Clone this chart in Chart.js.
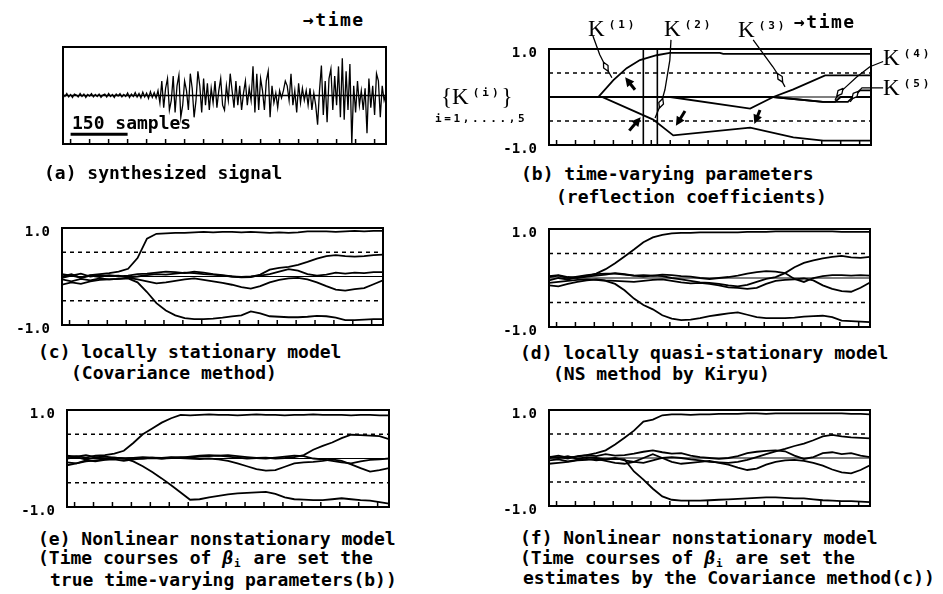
<!DOCTYPE html>
<html>
<head>
<meta charset="utf-8">
<script src="https://cdn.jsdelivr.net/npm/chart.js@4.4.1/dist/chart.umd.min.js"></script>
<style>
  html, body { margin: 0; padding: 0; background: #fff; }
  #page { position: relative; width: 943px; height: 594px; overflow: hidden; background: #fff; color: #000; }
  canvas { position: absolute; }
  .t { position: absolute; white-space: pre; font-family: "DejaVu Sans Mono", monospace; font-size: 18px; line-height: 20px; font-weight: bold; z-index: 2; }
  .tm { letter-spacing: 1.5px; }
  .sub { font-size: 11px; position: relative; top: 3px; margin: 0 2px 0 1px; }
  .kl { position: absolute; white-space: pre; font-family: "Liberation Serif", "DejaVu Serif", serif; font-size: 23px; line-height: 24px; z-index: 2; }
  .kl .sp { font-family: "DejaVu Sans Mono", monospace; font-size: 11px; font-weight: bold; letter-spacing: 3px; position: relative; top: -8px; margin-left: 4px; }
  .idx { position: absolute; white-space: pre; font-family: "DejaVu Sans Mono", monospace; font-size: 11px; font-weight: bold; letter-spacing: 2.6px; line-height: 14px; z-index: 2; }
</style>
</head>
<body>
<div id="page">
  <canvas id="pa"></canvas>
  <canvas id="pb"></canvas>
  <canvas id="pc"></canvas>
  <canvas id="pd"></canvas>
  <canvas id="pe"></canvas>
  <canvas id="pf"></canvas>

  <div class="t tm" style="left:303px;top:10px">→time</div>
  <div class="t" style="left:72px;top:113px">150 samples</div>
  <div class="t" style="left:44px;top:163px">(a) synthesized signal</div>

  <div class="t tm" style="left:794px;top:12px">→time</div>
  <div class="kl" style="left:588px;top:17px">K<span class="sp">(1)</span></div>
  <div class="kl" style="left:664px;top:17px">K<span class="sp">(2)</span></div>
  <div class="kl" style="left:738px;top:18px">K<span class="sp">(3)</span></div>
  <div class="kl" style="left:883px;top:46px">K<span class="sp">(4)</span></div>
  <div class="kl" style="left:883px;top:76px">K<span class="sp">(5)</span></div>
  <div class="kl" style="left:441px;top:85px">{K<span class="sp">(i)</span>}</div>
  <div class="idx" style="left:435px;top:112px">i=1,....,5</div>
  <div class="t" style="left:521px;top:164px">(b) time-varying parameters</div>
  <div class="t" style="left:556px;top:187px">(reflection coefficients)</div>

  <div class="t" style="left:38px;top:342px">(c) locally stationary model</div>
  <div class="t" style="left:71px;top:363px">(Covariance method)</div>
  <div class="t" style="left:520px;top:343px">(d) locally quasi-stationary model</div>
  <div class="t" style="left:553px;top:364px">(NS method by Kiryu)</div>

  <div class="t" style="left:38px;top:529px">(e) Nonlinear nonstationary model</div>
  <div class="t" style="left:38px;top:548px">(Time courses of <i>β</i><span class="sub">i</span> are set the</div>
  <div class="t" style="left:50px;top:570px">true time-varying parameters(b))</div>
  <div class="t" style="left:520px;top:528px">(f) Nonlinear nonstationary model</div>
  <div class="t" style="left:520px;top:548px">(Time courses of <i>β</i><span class="sub">i</span> are set the</div>
  <div class="t" style="left:523px;top:568px">estimates by the Covariance method(c))</div>
</div>

<script>
// --- DATA: time axis (samples) ---
const X_MIN = 0;
const X_MAX = 850;
const X_TICKS = [20, 70, 120, 170, 220, 270, 320, 370, 420, 470, 520, 570, 620, 670, 720, 770, 820];
const Y_LABEL_TICKS = [-1, 1];
const DASHED_LEVELS = [0.5, -0.5];
const SIGNAL_STEP = 5;
const T_GRID = [0, 25, 50, 75, 100, 125, 150, 175, 200, 225, 250, 275, 300, 325, 350, 375, 400, 425,
  450, 475, 500, 525, 550, 575, 600, 625, 650, 675, 700, 725, 750, 775, 800, 825, 850];

// (a) synthesized signal, one value every 5 samples
const SIGNAL = [
  0.03, -0.02, 0.04, -0.03, 0.02, -0.04, 0.03, 0.01, -0.03, 0.04,
  -0.02, 0.03, -0.04, 0.02, -0.01, 0.04, -0.03, 0.02, -0.02, 0.03,
  -0.04, 0.01, 0.03, -0.03, 0.04, -0.02, 0.02, -0.04, 0.03, -0.01,
  0.04, -0.03, 0.02, -0.02, 0.05, -0.04, 0.03, -0.02, 0.06, -0.03,
  0.04, -0.05, 0.07, -0.03, 0.05, -0.06, 0.08, -0.04, 0.06, -0.05,
  0.1, -0.15, 0.3, -0.25, 0.15, 0.35, -0.3, -0.1, 0.4, -0.35,
  0.2, 0.42, -0.45, -0.2, 0.3, 0.1, -0.3, 0.45, 0.15, -0.45,
  -0.1, 0.5, 0.2, -0.35, 0.35, -0.2, 0.25, -0.3, 0.15, -0.15,
  0.3, -0.25, 0.1, 0.35, -0.2, -0.3, 0.2, -0.1, 0.45, 0.1,
  -0.25, 0.3, -0.2, 0.2, -0.3, 0.05, 0.3, -0.2, 0.15, -0.1,
  0.6, -0.35, 0.45, -0.3, 0.35, 0.1, -0.3, 0.3, 0.5, -0.45,
  0.2, -0.15, 0.05, -0.25, 0.1, -0.05, 0.1, 0.3, 0.2, -0.1,
  0.45, -0.2, 0.1, -0.35, 0.25, -0.15, 0.15, -0.1, 0.1, -0.2,
  0.15, -0.3, 0.05, -0.2, -0.6, 0.1, 0.62, -0.4, 0.3, -0.55,
  0.35, 0.55, -0.3, 0.4, -0.2, 0.6, -0.45, 0.77, -0.5, 0.5,
  -0.3, 0.65, -1.0, 0.2, -0.35, 0.3, -0.2, 0.1, -0.3, 0.15,
  -0.78, 0.35, -0.25, 0.2, -0.4, 0.45, 0.3, -0.45, 0.2, -0.1, 0.05
];
const SCALE_BAR_X = [20, 170];
const SCALE_BAR_Y = -0.8;

// (b) true reflection coefficients (break points)
const K1_T = [0, 130, 170, 205, 240, 284, 319, 451, 460, 850];
const K1_V = [0, 0, 0.35, 0.6, 0.77, 0.87, 0.92, 0.92, 0.9, 0.9];
const K2_T = [0, 140, 275, 328, 531, 645, 724, 850];
const K2_V = [0, 0, -0.47, -0.8, -0.64, -0.84, -0.91, -0.91];
const K3_T = [0, 320, 531, 592, 645, 729, 850];
const K3_V = [0, 0, -0.24, 0, 0.16, 0.45, 0.45];
const K4_T = [0, 592, 723, 755, 770, 850];
const K4_V = [0, 0, -0.1, -0.1, 0, 0];
const K5_T = [0, 592, 723, 789, 821, 850];
const K5_V = [0, 0, -0.1, -0.1, 0.14, 0.14];
const MARK_LINES_T = [249, 286];

// (b) annotation leaders and arrows, in [sample, value]
const LEADERS = [
  { path: [[116, 1.27], [134, 0.88], [150, 0.63], [166, 0.40]], mark: 2 },
  { path: [[322, 1.19], [319, 0.77], [306, 0.15], [296, -0.13], [280, -0.44]], mark: 3 },
  { path: [[539, 1.19], [591, 0.63], [610, 0.40], [623, 0.21]], mark: 2 },
  { path: [[882, 0.74], [847, 0.63], [813, 0.42], [781, 0.19], [768, 0.10], [755, -0.06]], mark: 4 },
  { path: [[882, 0.19], [826, 0.19], [808, 0.04], [795, -0.1]], mark: 2 }
];
const ARROWS = [
  [227, 0.15, 201, 0.41],
  [212, -0.70, 242, -0.42],
  [359, -0.29, 335, -0.60],
  [557, -0.27, 542, -0.56]
];

// (c) Covariance method estimates
const C1 = [-0.03, 0.02, -0.02, 0.03, 0.05, 0.07, 0.1, 0.16, 0.38, 0.78, 0.88, 0.89, 0.9, 0.9, 0.91, 0.92, 0.91, 0.92,
  0.92, 0.91, 0.92, 0.91, 0.9, 0.91, 0.9, 0.91, 0.93, 0.93, 0.93, 0.92, 0.93, 0.94, 0.93, 0.94, 0.94];
const C2 = [-0.06, -0.1, -0.05, -0.08, -0.04, -0.06, -0.05, -0.04, -0.12, -0.32, -0.55, -0.7, -0.8, -0.86, -0.88, -0.88, -0.87, -0.85,
  -0.82, -0.8, -0.72, -0.76, -0.82, -0.83, -0.84, -0.84, -0.83, -0.81, -0.82, -0.85, -0.9, -0.9, -0.89, -0.88, -0.88];
const C3 = [0.05, 0.02, 0.06, 0.0, 0.03, 0.01, 0.02, -0.02, 0.0, 0.03, 0.05, 0.04, 0.06, 0.08, 0.07, 0.05, 0.04, 0.02,
  0.0, -0.02, -0.01, 0.04, 0.14, 0.18, 0.2, 0.24, 0.3, 0.37, 0.42, 0.44, 0.42, 0.41, 0.42, 0.44, 0.45];
const C4 = [0.0, 0.05, -0.03, 0.02, -0.01, 0.03, 0.0, 0.02, 0.05, 0.06, 0.08, 0.1, 0.09, 0.07, 0.1, 0.08, 0.05, 0.03,
  0.0, -0.01, 0.0, 0.02, 0.05, 0.1, 0.15, 0.12, 0.05, 0.02, 0.04, 0.08, 0.06, 0.08, 0.07, 0.09, 0.09];
const C5 = [-0.17, -0.12, -0.15, -0.1, -0.07, -0.06, -0.05, -0.03, -0.06, -0.1, -0.14, -0.12, -0.09, -0.06, -0.04, -0.07, -0.1, -0.13,
  -0.17, -0.22, -0.25, -0.2, -0.12, -0.07, -0.04, -0.03, -0.06, -0.12, -0.2, -0.27, -0.29, -0.26, -0.24, -0.16, -0.08];

// (d) NS method by Kiryu
const D1 = [-0.05, 0.0, -0.03, 0.02, 0.04, 0.09, 0.18, 0.3, 0.44, 0.58, 0.73, 0.83, 0.88, 0.91, 0.92, 0.92, 0.93, 0.93,
  0.93, 0.93, 0.93, 0.94, 0.94, 0.94, 0.95, 0.95, 0.95, 0.95, 0.95, 0.95, 0.95, 0.94, 0.94, 0.94, 0.94];
const D2 = [-0.1, -0.08, -0.06, -0.04, -0.03, -0.04, -0.06, -0.12, -0.25, -0.42, -0.55, -0.64, -0.76, -0.83, -0.86, -0.85, -0.82, -0.78,
  -0.75, -0.72, -0.7, -0.75, -0.8, -0.82, -0.82, -0.82, -0.81, -0.79, -0.78, -0.77, -0.8, -0.87, -0.88, -0.89, -0.9];
const D3 = [0.04, 0.06, 0.02, 0.0, 0.03, 0.05, 0.07, 0.1, 0.08, 0.05, 0.03, 0.05, 0.04, 0.0, -0.03, -0.06, -0.09, -0.1,
  -0.12, -0.15, -0.17, -0.14, -0.08, -0.02, 0.02, 0.1, 0.22, 0.31, 0.36, 0.4, 0.43, 0.45, 0.42, 0.41, 0.43];
const D4 = [0.02, 0.05, 0.0, 0.03, 0.06, 0.08, 0.09, 0.09, 0.07, 0.05, 0.06, 0.05, 0.07, 0.06, 0.04, 0.03, 0.0, -0.02,
  0.0, 0.02, 0.05, 0.09, 0.12, 0.14, 0.13, 0.1, -0.02, -0.08, 0.0, 0.04, 0.06, 0.06, 0.05, 0.06, 0.05];
const D5 = [-0.15, -0.17, -0.12, -0.08, -0.05, -0.03, -0.05, -0.06, -0.07, -0.08, -0.06, -0.04, -0.03, -0.06, -0.09, -0.11, -0.1, -0.12,
  -0.15, -0.19, -0.2, -0.22, -0.2, -0.12, -0.06, -0.04, -0.03, -0.01, -0.05, -0.15, -0.22, -0.27, -0.28, -0.2, -0.09];

// (e) nonlinear nonstationary model, beta = true parameters
const E1 = [0.03, 0.05, 0.02, 0.06, 0.07, 0.1, 0.16, 0.32, 0.5, 0.62, 0.74, 0.83, 0.9, 0.89, 0.9, 0.91, 0.9, 0.9,
  0.89, 0.9, 0.91, 0.9, 0.9, 0.89, 0.9, 0.9, 0.91, 0.9, 0.9, 0.9, 0.89, 0.9, 0.9, 0.89, 0.89];
const E2 = [-0.14, -0.1, -0.06, -0.04, -0.02, 0.0, 0.0, -0.06, -0.16, -0.28, -0.41, -0.55, -0.7, -0.85, -0.84, -0.8, -0.77, -0.74,
  -0.72, -0.71, -0.7, -0.69, -0.73, -0.8, -0.84, -0.85, -0.86, -0.86, -0.84, -0.82, -0.84, -0.86, -0.87, -0.9, -0.93];
const E3 = [0.0, 0.03, -0.02, 0.02, 0.0, 0.02, 0.0, 0.01, 0.03, 0.02, 0.0, 0.01, 0.03, 0.02, 0.04, 0.05, 0.06, 0.04,
  0.02, 0.0, 0.01, 0.02, 0.0, 0.01, 0.03, 0.07, 0.18, 0.26, 0.33, 0.42, 0.49, 0.48, 0.47, 0.46, 0.4];
const E4 = [0.06, 0.04, 0.07, 0.03, 0.04, 0.02, 0.0, 0.01, 0.0, 0.02, 0.01, 0.03, 0.02, 0.04, 0.06, 0.07, 0.06, 0.07,
  0.05, 0.03, 0.01, 0.0, 0.02, 0.04, 0.06, 0.05, 0.0, -0.02, -0.05, -0.08, -0.1, -0.06, -0.03, -0.02, 0.0];
const E5 = [-0.08, -0.1, -0.04, -0.06, -0.03, -0.02, -0.05, -0.02, 0.0, 0.01, 0.0, 0.02, 0.01, 0.0, -0.01, 0.0, -0.02, -0.05,
  -0.1, -0.16, -0.22, -0.25, -0.24, -0.17, -0.1, -0.08, -0.07, -0.05, -0.02, -0.05, -0.12, -0.2, -0.27, -0.24, -0.2];

// (f) nonlinear nonstationary model, beta = Covariance estimates
const F1 = [0.0, 0.02, -0.01, 0.04, 0.06, 0.1, 0.16, 0.28, 0.42, 0.57, 0.76, 0.8, 0.89, 0.91, 0.91, 0.9, 0.91, 0.91,
  0.92, 0.92, 0.92, 0.93, 0.93, 0.92, 0.93, 0.93, 0.93, 0.93, 0.93, 0.93, 0.93, 0.93, 0.92, 0.92, 0.91];
const F2 = [-0.05, -0.03, -0.07, -0.04, -0.02, -0.05, -0.03, -0.02, -0.03, -0.28, -0.45, -0.64, -0.8, -0.87, -0.89, -0.89, -0.89, -0.88,
  -0.87, -0.86, -0.85, -0.84, -0.83, -0.82, -0.82, -0.83, -0.84, -0.84, -0.86, -0.88, -0.89, -0.9, -0.9, -0.91, -0.92];
const F3 = [0.03, 0.0, 0.04, -0.02, 0.02, 0.0, -0.03, 0.0, -0.05, -0.08, -0.1, -0.05, 0.0, 0.02, 0.0, -0.03, -0.05, -0.08,
  -0.09, -0.1, -0.08, -0.04, 0.02, 0.08, 0.14, 0.19, 0.25, 0.3, 0.37, 0.45, 0.48, 0.45, 0.43, 0.42, 0.41];
const F4 = [0.02, 0.05, 0.01, 0.03, 0.06, 0.04, 0.08, 0.05, 0.06, 0.09, 0.13, 0.16, 0.12, 0.09, 0.1, 0.05, 0.02, 0.0,
  -0.02, 0.0, 0.04, 0.1, 0.13, 0.15, 0.16, 0.14, 0.05, -0.02, 0.02, 0.1, 0.12, 0.08, 0.1, 0.05, 0.02];
const F5 = [-0.12, -0.1, -0.08, -0.05, -0.04, -0.02, -0.06, -0.1, -0.12, -0.08, 0.0, 0.08, 0.0, -0.08, -0.12, -0.1, -0.08, -0.06,
  -0.1, -0.14, -0.2, -0.25, -0.22, -0.14, -0.08, -0.05, -0.04, -0.06, -0.1, -0.16, -0.24, -0.3, -0.32, -0.25, -0.15];

// --- LAYOUT: plot boxes on the page ---
const BOX = {
  pa: { l: 63, t: 47, r: 386, b: 144 },
  pb: { l: 549, t: 49, r: 871, b: 145 },
  pc: { l: 62, t: 228, r: 383, b: 325 },
  pd: { l: 549, t: 229, r: 870, b: 327 },
  pe: { l: 67, t: 410, r: 389, b: 507 },
  pf: { l: 549, t: 410, r: 870, b: 506 }
};

// --- DATASET HELPERS ---
function curve(ts, vs, width) {
  return { data: ts.map((t, i) => ({ x: t, y: vs[i] })), borderColor: '#000', borderWidth: width || 1.8, pointRadius: 0, tension: 0, fill: false };
}
function level(v, dash, width) {
  return { data: [{ x: X_MIN, y: v }, { x: X_MAX, y: v }], borderColor: '#000', borderWidth: width || 1.5, borderDash: dash || [], pointRadius: 0, fill: false };
}
function refLines() {
  return [level(0, [], 1.2)].concat(DASHED_LEVELS.map(v => level(v, [4, 4], 1.6)));
}

// --- PLUGINS ---
const framePlugin = {
  id: 'frame',
  afterDatasetsDraw(chart) {
    const { ctx, chartArea: a, scales: { x } } = chart;
    ctx.save();
    ctx.strokeStyle = '#000';
    ctx.lineWidth = 2;
    ctx.strokeRect(a.left, a.top, a.right - a.left, a.bottom - a.top);
    ctx.lineWidth = 1.5;
    ctx.beginPath();
    X_TICKS.forEach(v => {
      const px = x.getPixelForValue(v);
      ctx.moveTo(px, a.bottom);
      ctx.lineTo(px, a.bottom - 5);
    });
    ctx.stroke();
    ctx.restore();
  }
};

const kNotesPlugin = {
  id: 'kNotes',
  afterDatasetsDraw(chart) {
    const { ctx, scales: { x, y } } = chart;
    const toPx = p => [x.getPixelForValue(p[0]), y.getPixelForValue(p[1])];
    ctx.save();
    ctx.strokeStyle = '#000';
    ctx.fillStyle = '#000';
    ctx.lineJoin = 'round';

    // leader lines with small open markers
    LEADERS.forEach(L => {
      const pts = L.path.map(toPx);
      ctx.lineWidth = 1.3;
      ctx.beginPath();
      ctx.moveTo(pts[0][0], pts[0][1]);
      pts.slice(1).forEach(p => ctx.lineTo(p[0], p[1]));
      ctx.stroke();
      const m = pts[L.mark], p0 = pts[L.mark - 1], p1 = pts[L.mark + 1];
      const ang = Math.atan2(p1[1] - p0[1], p1[0] - p0[0]);
      ctx.save();
      ctx.translate(m[0], m[1]);
      ctx.rotate(ang);
      ctx.beginPath();
      ctx.moveTo(-5, 0); ctx.lineTo(0, -2.5); ctx.lineTo(5, 0); ctx.lineTo(0, 2.5); ctx.closePath();
      ctx.fillStyle = '#fff';
      ctx.fill();
      ctx.stroke();
      ctx.restore();
    });

    // thick arrows
    ARROWS.forEach(a => {
      const [x0, y0] = toPx([a[0], a[1]]);
      const [x1, y1] = toPx([a[2], a[3]]);
      const ang = Math.atan2(y1 - y0, x1 - x0);
      const c = Math.cos(ang), s = Math.sin(ang);
      ctx.lineWidth = 3;
      ctx.beginPath();
      ctx.moveTo(x0, y0);
      ctx.lineTo(x1 - 6 * c, y1 - 6 * s);
      ctx.stroke();
      ctx.beginPath();
      ctx.moveTo(x1, y1);
      ctx.lineTo(x1 - 9 * c - 4.5 * s, y1 - 9 * s + 4.5 * c);
      ctx.lineTo(x1 - 9 * c + 4.5 * s, y1 - 9 * s - 4.5 * c);
      ctx.closePath();
      ctx.fill();
    });
    ctx.restore();
  }
};

// --- CHART FACTORY ---
function makePanel(id, datasets, showY, margin, extraPlugins) {
  const b = BOX[id];
  const m = Object.assign({ l: 60, t: 12, r: 12, b: 12 }, margin || {});
  const cv = document.getElementById(id);
  const w = (b.r - b.l) + m.l + m.r;
  const h = (b.b - b.t) + m.t + m.b;
  cv.width = w; cv.height = h;
  cv.style.left = (b.l - m.l) + 'px';
  cv.style.top = (b.t - m.t) + 'px';
  cv.style.width = w + 'px';
  cv.style.height = h + 'px';

  return new Chart(cv, {
    type: 'line',
    data: { datasets: datasets },
    options: {
      responsive: false,
      animation: false,
      devicePixelRatio: 1,
      layout: { padding: { left: 0, right: m.r, top: m.t, bottom: m.b } },
      plugins: { legend: { display: false }, tooltip: { enabled: false } },
      scales: {
        x: { type: 'linear', min: X_MIN, max: X_MAX, display: false },
        y: {
          type: 'linear', min: -1, max: 1, display: showY,
          afterFit: s => { s.width = m.l; s.paddingTop = 0; s.paddingBottom = 0; },
          afterBuildTicks: s => { s.ticks = Y_LABEL_TICKS.map(v => ({ value: v })); },
          grid: { display: false, drawTicks: false },
          border: { display: false },
          ticks: {
            color: '#000', padding: 12, labelOffset: 4,
            font: { family: 'DejaVu Sans Mono', size: 14, weight: 'bold' },
            callback: v => Number(v).toFixed(1)
          }
        }
      }
    },
    plugins: [framePlugin].concat(extraPlugins || [])
  });
}

// --- BUILD PANELS ---
const signalT = SIGNAL.map((_, i) => i * SIGNAL_STEP);
makePanel('pa', [
  level(0, [], 1.5),
  curve(signalT, SIGNAL, 1.3),
  curve(SCALE_BAR_X, [SCALE_BAR_Y, SCALE_BAR_Y], 3)
], false);

makePanel('pb', refLines().concat(
  MARK_LINES_T.map(t => curve([t, t], [-1, 1], 1.6)),
  [curve(K1_T, K1_V), curve(K2_T, K2_V), curve(K3_T, K3_V), curve(K4_T, K4_V), curve(K5_T, K5_V)]
), true, { t: 24, r: 22 }, [kNotesPlugin]);

makePanel('pc', refLines().concat([C1, C2, C3, C4, C5].map(v => curve(T_GRID, v))), true);
makePanel('pd', refLines().concat([D1, D2, D3, D4, D5].map(v => curve(T_GRID, v))), true);
makePanel('pe', refLines().concat([E1, E2, E3, E4, E5].map(v => curve(T_GRID, v))), true);
makePanel('pf', refLines().concat([F1, F2, F3, F4, F5].map(v => curve(T_GRID, v))), true);
</script>
</body>
</html>
